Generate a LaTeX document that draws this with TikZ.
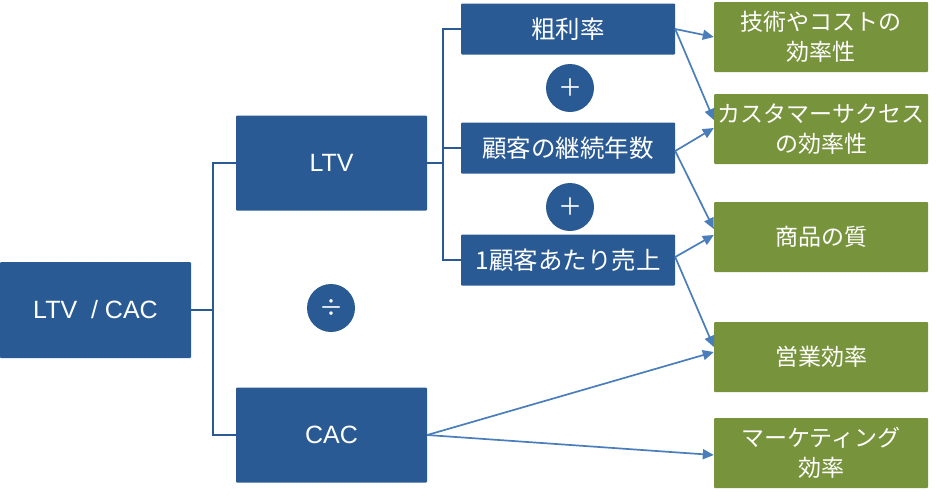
\documentclass[tikz,border=0pt]{standalone}
\usepackage{fontspec}
\setmainfont{Liberation Sans}
\newfontfamily\jpfont{Noto Sans CJK JP}
\usetikzlibrary{arrows.meta}
\definecolor{boxblue}{HTML}{2A5A94}
\definecolor{boxgreen}{HTML}{77933C}
\definecolor{linkblue}{HTML}{4A7EBB}
\tikzset{
  bluebox/.style={fill=boxblue, text=white, rounded corners=1pt, inner sep=0pt,
    font=\fontsize{25}{28}\selectfont},
  midbox/.style={bluebox, minimum width=214pt, minimum height=51pt,
    font=\jpfont\fontsize{24.5}{28}\selectfont},
  greenbox/.style={fill=boxgreen, text=white, rounded corners=1pt, inner sep=0pt,
    minimum width=214pt, minimum height=70pt, align=center,
    font=\jpfont\fontsize{23}{30}\selectfont},
  opcircle/.style={circle, fill=boxblue, text=white, inner sep=0pt, minimum size=48pt,
    font=\jpfont\fontsize{24}{24}\selectfont},
  bracket/.style={draw=boxblue, line width=1.6pt},
  link/.style={draw=linkblue, line width=1.7pt, -{Triangle[length=11pt,width=10pt]}}
}
\begin{document}
\begin{tikzpicture}[x=1pt, y=-1pt]
    \useasboundingbox (0,0) rectangle (937,499);

    \node[bluebox, minimum width=191pt, minimum height=96pt] (ratio) at (95.5,310) {LTV\ \ / CAC};
    \node[bluebox, minimum width=191pt, minimum height=95pt] (ltv) at (331.5,163) {LTV};
    \node[bluebox, minimum width=191pt, minimum height=95pt] (cac) at (331.5,435) {CAC};
    \node[opcircle] (div) at (331,308) {÷};

    \node[midbox] (margin) at (568,29) {粗利率};
    \node[midbox] (years) at (568,148) {顧客の継続年数};
    \node[midbox] (sales) at (568,260) {1顧客あたり売上};
    \node[opcircle] (plus1) at (570,88) {＋};
    \node[opcircle] (plus2) at (570,207) {＋};

    \node[greenbox] (tech) at (821,37) {技術やコストの\\効率性};
    \node[greenbox] (cs) at (821,129) {カスタマーサクセス\\の効率性};
    \node[greenbox] (quality) at (821,237) {商品の質};
    \node[greenbox] (salesff) at (821,357) {営業効率};
    \node[greenbox] (mkt) at (821,453) {マーケティング\\効率};

    \draw[bracket] (ratio.east) -- ++(22,0) |- (ltv.west);
    \draw[bracket] (ratio.east) -- ++(22,0) |- (cac.west);
    \draw[bracket] (ltv.east) -- ++(16,0) |- (margin.west);
    \draw[bracket] (ltv.east) -- ++(16,0) |- (years.west);
    \draw[bracket] (ltv.east) -- ++(16,0) |- (sales.west);

    \draw[link] (margin.east) -- (tech.west);
    \draw[link] (margin.east) -- ([yshift=9pt]cs.west);
    \draw[link] ([yshift=-3pt]years.east) -- ([yshift=1pt]cs.west);
    \draw[link] ([yshift=-3pt]years.east) -- ([yshift=8pt]quality.west);
    \draw[link] ([yshift=3pt]sales.east) -- ([yshift=2pt]quality.west);
    \draw[link] ([yshift=3pt]sales.east) -- ([yshift=10pt]salesff.west);
    \draw[link] (cac.east) -- ([yshift=5pt]salesff.west);
    \draw[link] (cac.east) -- ([yshift=-2pt]mkt.west);
\end{tikzpicture}
\end{document}
